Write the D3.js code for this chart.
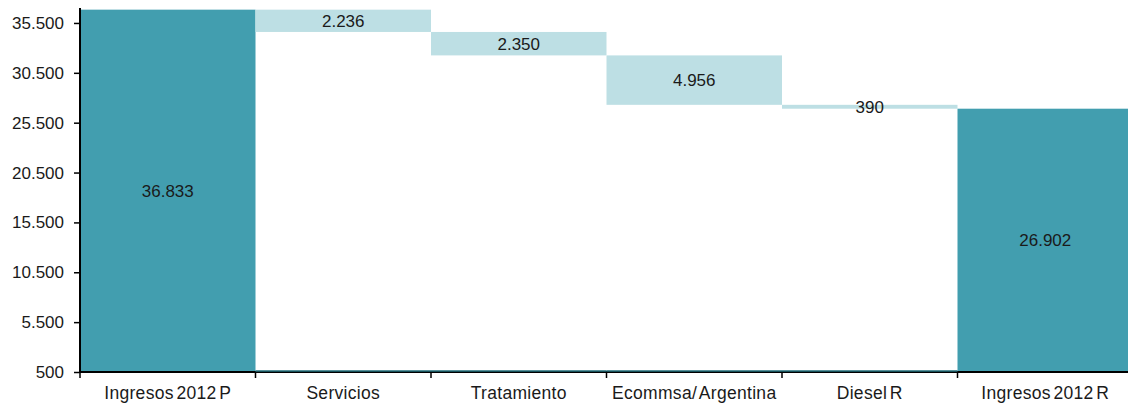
<!DOCTYPE html>
<html>
<head>
<meta charset="utf-8">
<script src="https://cdn.jsdelivr.net/npm/d3@7"></script>
<style>
  body { margin: 0; background: #fff; }
  svg text { font-family: "Liberation Sans", Arial, sans-serif; fill: #1a1a1a; }
</style>
</head>
<body>
<svg id="chart" width="1128" height="405"></svg>
<script>
const categories = ['Ingresos 2012 P', 'Servicios', 'Tratamiento', 'Ecommsa/ Argentina', 'Diesel R', 'Ingresos 2012 R'];
const values = [36833, -2236, -2350, -4956, -390, 26902];
const isTotal = [true, false, false, false, false, true];
const labels = ['36.833', '2.236', '2.350', '4.956', '390', '26.902'];
const yTicks = [500, 5500, 10500, 15500, 20500, 25500, 30500, 35500];

const svg = d3.select('#chart');
const mLeft = 80, mRight = 1133, mTop = 8, mBottom = 372;

const x = d3.scaleBand().domain(categories).range([mLeft, mRight]).padding(0);
const y = d3.scaleLinear().domain([500, 37000]).range([mBottom, mTop]);

// build waterfall segments
let running = 0;
const bars = categories.map((c, i) => {
  let y0, y1;
  if (isTotal[i]) { y0 = 500; y1 = values[i]; running = values[i]; }
  else { y1 = running; y0 = running + values[i]; running = y0; }
  return { cat: c, y0: y0, y1: y1, total: isTotal[i], label: labels[i] };
});

svg.append('g').selectAll('rect')
  .data(bars)
  .join('rect')
  .attr('x', d => x(d.cat))
  .attr('width', x.bandwidth())
  .attr('y', d => y(Math.max(d.y0, d.y1)))
  .attr('height', d => Math.abs(y(d.y0) - y(d.y1)))
  .attr('fill', d => d.total ? '#429eaf' : '#bddfe4');

svg.append('g').selectAll('text')
  .data(bars)
  .join('text')
  .attr('x', d => x(d.cat) + x.bandwidth() / 2)
  .attr('y', d => (y(d.y0) + y(d.y1)) / 2)
  .attr('dy', '0.36em')
  .attr('text-anchor', 'middle')
  .style('font-size', '17px')
  .text(d => d.label);

// y axis
const fmt = d3.format(',');
const yAxis = svg.append('g')
  .attr('transform', `translate(${mLeft},0)`)
  .call(d3.axisLeft(y).tickValues(yTicks).tickSize(6).tickPadding(10)
    .tickFormat(d => fmt(d).replace(/,/g, '.')));
yAxis.select('.domain').attr('stroke', '#000').attr('stroke-width', 2)
  .attr('d', `M0,${mTop}V${mBottom}`);
yAxis.selectAll('.tick line').attr('stroke', '#000').attr('stroke-width', 1.5);
yAxis.selectAll('text').style('font-size', '17px').attr('fill', '#1a1a1a');

// x axis
const xAxis = svg.append('g')
  .attr('transform', `translate(0,${mBottom})`);
xAxis.append('line')
  .attr('x1', mLeft).attr('x2', mRight)
  .attr('stroke', '#000').attr('stroke-width', 2);
// thin teal remnant of floating bars along the baseline
xAxis.selectAll('.base')
  .data(bars.filter(d => !d.total))
  .join('line')
  .attr('class', 'base')
  .attr('x1', d => x(d.cat)).attr('x2', d => x(d.cat) + x.bandwidth())
  .attr('y1', -1).attr('y2', -1)
  .attr('stroke', '#1f6c78').attr('stroke-width', 1.5);
xAxis.selectAll('.tk')
  .data(categories.slice(1))
  .join('line')
  .attr('class', 'tk')
  .attr('x1', d => x(d)).attr('x2', d => x(d))
  .attr('y1', 0).attr('y2', 6)
  .attr('stroke', '#000').attr('stroke-width', 1.5);
xAxis.append('line').attr('x1', mLeft).attr('x2', mLeft).attr('y1', 0).attr('y2', 6)
  .attr('stroke', '#000').attr('stroke-width', 1.5);
xAxis.selectAll('text')
  .data(categories)
  .join('text')
  .attr('x', d => x(d) + x.bandwidth() / 2)
  .attr('y', 21)
  .attr('dy', '0.36em')
  .attr('text-anchor', 'middle')
  .style('font-size', '17.5px')
  .style('letter-spacing', '0.3px')
  .style('word-spacing', '-2.5px')
  .text(d => d);
</script>
</body>
</html>
